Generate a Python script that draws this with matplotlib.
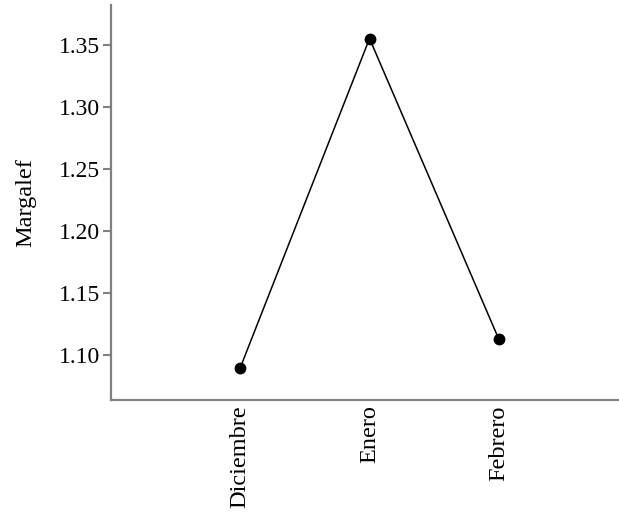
import matplotlib
matplotlib.use("Agg")
import matplotlib.pyplot as plt

months = ["Diciembre", "Enero", "Febrero"]
margalef = [1.090, 1.355, 1.113]
yticks = [1.10, 1.15, 1.20, 1.25, 1.30, 1.35]

plt.rcParams['font.family'] = ['Liberation Serif', 'DejaVu Serif']

fig = plt.figure(figsize=(6.19, 5.15), dpi=100)
ax = fig.add_axes([111 / 619, 115 / 515, 1 - 111 / 619, 395 / 515])

x = list(range(len(months)))
ax.plot(x, margalef, color="black", linewidth=1.1, marker="o", markersize=7.5)

ax.set_xlim(-1, 2.93)
ax.set_ylim(1.064, 1.382)
ax.set_xticks(x)
ax.set_xticklabels(months, rotation=90, fontsize=17.5)
ax.set_yticks(yticks)
ax.set_yticklabels(["%.2f" % v for v in yticks], fontsize=17)
ax.set_ylabel("Margalef", fontsize=17.5, labelpad=16)

for s in ["top", "right"]:
    ax.spines[s].set_visible(False)
for s in ["left", "bottom"]:
    ax.spines[s].set_color("#808080")
    ax.spines[s].set_linewidth(1.6)
ax.tick_params(axis="y", length=6, width=1.5, color="#808080", pad=2)
ax.tick_params(axis="x", length=0, pad=4)

fig.savefig("out.png", dpi=100)
